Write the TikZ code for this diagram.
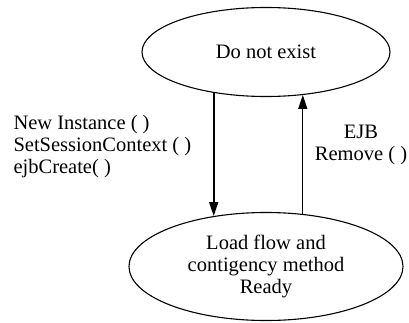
\documentclass[tikz,border=0pt]{standalone}
\usepackage{fontspec}
\setmainfont{Liberation Serif}
\usetikzlibrary{shapes.geometric, arrows.meta}

\begin{document}
\begin{tikzpicture}[x=1pt, y=1pt, node distance=214.5pt, font=\fontsize{20.5}{22}\selectfont]
\useasboundingbox (0,0) rectangle (409,322);
% Состояния
\node (absent) [ellipse, minimum width=248pt, minimum height=89pt, inner sep=0pt, line width=1.1pt, draw=black, align=center] at (266,270) {Do not exist};

\node (ready) [ellipse, minimum width=274pt, minimum height=108pt, inner sep=0pt, line width=1.1pt, draw=black, align=center, below of=absent] {Load flow and\\contigency method\\Ready};

% Подписи
\node (create) [align=left, anchor=west] at (10,175) {New Instance ( )\\SetSessionContext ( )\\ejbCreate( )};
\node (remove) [align=center] at (361,177) {EJB\\Remove ( )};

% Переходы
\draw[-{Triangle[length=14pt, width=9pt]}, line width=1.7pt] (absent.218) -- (absent.218 |- ready.136);
\draw[-{Triangle[length=14pt, width=9pt]}, line width=1.3pt] (ready.55) -- (ready.55 |- absent.311);

\end{tikzpicture}
\end{document}
